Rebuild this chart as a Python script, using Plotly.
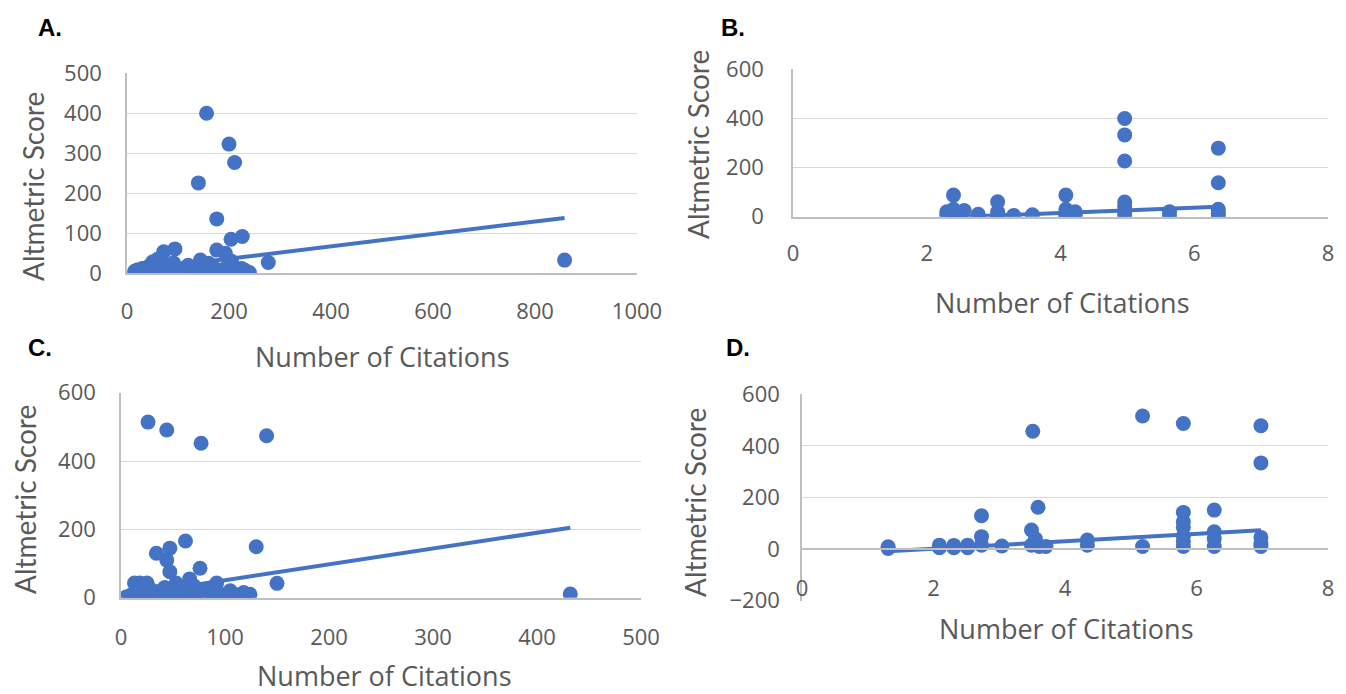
import plotly.graph_objects as go

# ---------------- data ----------------
a_cit = [156, 200, 211, 140, 176, 204, 226, 176, 94, 72, 277, 232, 858,
         15, 20, 25, 30, 35, 40, 45, 50, 55, 60, 65, 70, 75, 80, 85, 90, 95, 100,
         110, 120, 130, 140, 150, 160, 165, 175, 185, 195, 205, 215, 225, 240,
         60, 50, 91, 144, 193, 45, 120, 170]
a_alt = [400, 323, 277, 226, 136, 85, 92, 58, 61, 54, 27, 7, 33,
         5, 8, 3, 12, 6, 15, 2, 18, 5, 10, 0, 25, 3, 8, 15, 2, 12, 5,
         12, 3, 8, 18, 2, 25, 5, 10, 3, 15, 30, 5, 12, 2,
         35, 28, 26, 33, 50, 0, 20, 3]
trend_a_x = [15, 858]
trend_a_y = [7.7, 138.4]

b_cit = [2.40, 2.40, 2.40, 2.40, 2.40, 2.30, 2.30, 2.48, 2.48, 2.56, 2.77, 2.77,
         3.06, 3.06, 3.06, 3.30, 3.58, 4.08, 4.08, 4.08, 4.08, 4.22, 4.22,
         4.96, 4.96, 4.96, 4.96, 4.96, 4.96, 4.96, 5.63, 5.63,
         6.36, 6.36, 6.36, 6.36, 6.36]
b_alt = [88, 30, 15, 5, 0, 5, 20, 10, 2, 25, 10, 2,
         61, 20, 5, 5, 8, 88, 30, 10, 2, 20, 5,
         400, 333, 227, 60, 40, 20, 5, 20, 3,
         279, 138, 30, 15, 3]
trend_b_x = [2.30, 6.36]
trend_b_y = [-3, 41]

c_cit = [26, 44, 77, 140, 62, 130, 34, 47, 44, 47, 76, 150, 18, 432,
         13, 25, 53, 66, 92, 108, 124, 96,
         5, 8, 10, 12, 15, 18, 20, 22, 25, 28, 30, 33, 36, 40, 42, 45, 50, 55,
         58, 60, 65, 70, 72, 75, 80, 85, 88, 90, 100, 105, 112, 118, 122]
c_alt = [514, 491, 452, 474, 166, 149, 130, 145, 110, 76, 86, 42, 43, 11,
         43, 43, 43, 55, 43, 10, 10, 10,
         2, 5, 0, 12, 8, 20, 3, 15, 6, 25, 2, 10, 18, 4, 30, 8, 15, 5,
         22, 3, 12, 35, 6, 18, 9, 25, 4, 14, 3, 20, 8, 15, 5]
trend_c_x = [5, 432]
trend_c_y = [7, 205]

d_cit = [3.51, 3.59, 2.73, 2.73, 1.31, 2.09, 2.31, 2.52, 2.73, 3.04, 3.49, 3.49,
         3.61, 3.71, 4.34, 4.34,
         5.18, 5.80, 6.98, 6.98, 5.80, 5.80, 5.80, 6.27, 6.27, 5.18, 5.80, 5.80,
         5.80, 6.27, 6.27, 6.98, 6.98, 6.98,
         1.31, 2.09, 2.31, 2.52, 3.55]
d_alt = [457, 162, 129, 48, 9, 15, 14, 15, 15, 12, 74, 15, 10, 10, 15, 35,
         516, 487, 478, 334, 142, 106, 84, 151, 67, 10, 50, 30,
         10, 40, 10, 45, 20, 10,
         2, 5, 5, 5, 40]
trend_d_x = [1.31, 6.98]
trend_d_y = [-9, 73]

panel_labels = ["A.", "B.", "C.", "D."]
x_title = "Number of Citations"
y_title = "Altmetric Score"

# ---------------- layout helpers ----------------
OFF = 8  # page body margin in the browser
W, H = 1346 - OFF, 694 - OFF
BLUE = "#4472C4"
GRID = "#d9d9d9"
AXIS = "#bfbfbf"
TICK_FONT = dict(family="'Open Sans', Lato, sans-serif", size=22, color="#595959")
XTITLE_FONT = dict(family="'Open Sans', Lato, sans-serif", size=27, color="#595959")
YTITLE_FONT = dict(family="Lato, 'Open Sans', sans-serif", size=28, color="#595959")


def px_x(p):
    return (p - OFF) / W


def px_y(p):
    return 1 - (p - OFF) / H


fig = go.Figure()

panels = [
    # x, y, trend x, trend y, suffix, x px, y px (top, bottom), xrange, yrange, dtx, dty, free x pos, x standoff, y standoff
    (a_cit, a_alt, trend_a_x, trend_a_y, "", (127, 637), (73.3, 273.3), [0, 1000], [0, 500], 200, 100, None, 18, 19),
    (b_cit, b_alt, trend_b_x, trend_b_y, "2", (793, 1328), (69.3, 216.7), [0, 8], [0, 600], 2, 200, None, 16, 23),
    (c_cit, c_alt, trend_c_x, trend_c_y, "3", (121, 641), (392.7, 597.7), [0, 500], [0, 600], 100, 200, None, 19, 19),
    (d_cit, d_alt, trend_d_x, trend_d_y, "4", (802, 1328), (394.3, 600.6), [0, 8], [-200, 600], 2, 200, 549, 20, 16),
]

for cit, alt, tx, ty, s, xr, yr, xrng, yrng, dx, dy, xpos, xso, yso in panels:
    fig.add_trace(go.Scatter(x=tx, y=ty, mode="lines",
                             line=dict(color=BLUE, width=4),
                             xaxis="x" + s, yaxis="y" + s, showlegend=False,
                             hoverinfo="skip"))
    fig.add_trace(go.Scatter(x=cit, y=alt, mode="markers",
                             marker=dict(color=BLUE, size=15, line=dict(width=0)),
                             xaxis="x" + s, yaxis="y" + s, showlegend=False,
                             hoverinfo="skip"))
    xa = dict(domain=[px_x(xr[0]), px_x(xr[1])], range=xrng, dtick=dx, tick0=0,
              showgrid=False, zeroline=False, showline=True, linecolor=AXIS,
              linewidth=1.5, ticks="", tickfont=TICK_FONT, automargin=False,
              ticklabelstandoff=xso, fixedrange=True)
    if xpos is not None:
        xa.update(anchor="free", position=px_y(xpos))
    else:
        xa.update(anchor="y" + s)
    ya = dict(domain=[px_y(yr[1]), px_y(yr[0])], range=yrng, dtick=dy, tick0=0,
              showgrid=True, gridcolor=GRID, gridwidth=1.3, zeroline=False,
              showline=True, linecolor=AXIS, linewidth=1.5, ticks="",
              tickfont=TICK_FONT, ticklabelstandoff=yso, anchor="x" + s,
              automargin=False, fixedrange=True)
    fig.layout["xaxis" + s] = xa
    fig.layout["yaxis" + s] = ya

annotations = []
for lab, (x, y) in zip(panel_labels, [(50, 28), (733, 28), (40, 347), (738, 347)]):
    annotations.append(dict(text="<b>" + lab + "</b>", x=px_x(x), y=px_y(y),
                            xref="paper", yref="paper",
                            showarrow=False, xanchor="center", yanchor="middle",
                            font=dict(family="Liberation Sans, Arial, sans-serif",
                                      size=24, color="#000000")))
for (x, y) in [(382, 356), (1062, 302), (384, 675), (1066, 628)]:
    annotations.append(dict(text=x_title, x=px_x(x), y=px_y(y), xref="paper", yref="paper",
                            showarrow=False, xanchor="center", yanchor="middle",
                            font=XTITLE_FONT))
for (x, y) in [(33, 187), (698, 145), (25, 500), (695, 503)]:
    annotations.append(dict(text=y_title, x=px_x(x), y=px_y(y), xref="paper", yref="paper",
                            showarrow=False, xanchor="center", yanchor="middle",
                            textangle=-90, font=YTITLE_FONT))

fig.update_layout(
    width=W, height=H,
    margin=dict(l=0, r=0, t=0, b=0, pad=0, autoexpand=False),
    paper_bgcolor="white", plot_bgcolor="white",
    annotations=annotations,
    hovermode=False,
)

fig.write_html("out.html", config={"displayModeBar": False})
